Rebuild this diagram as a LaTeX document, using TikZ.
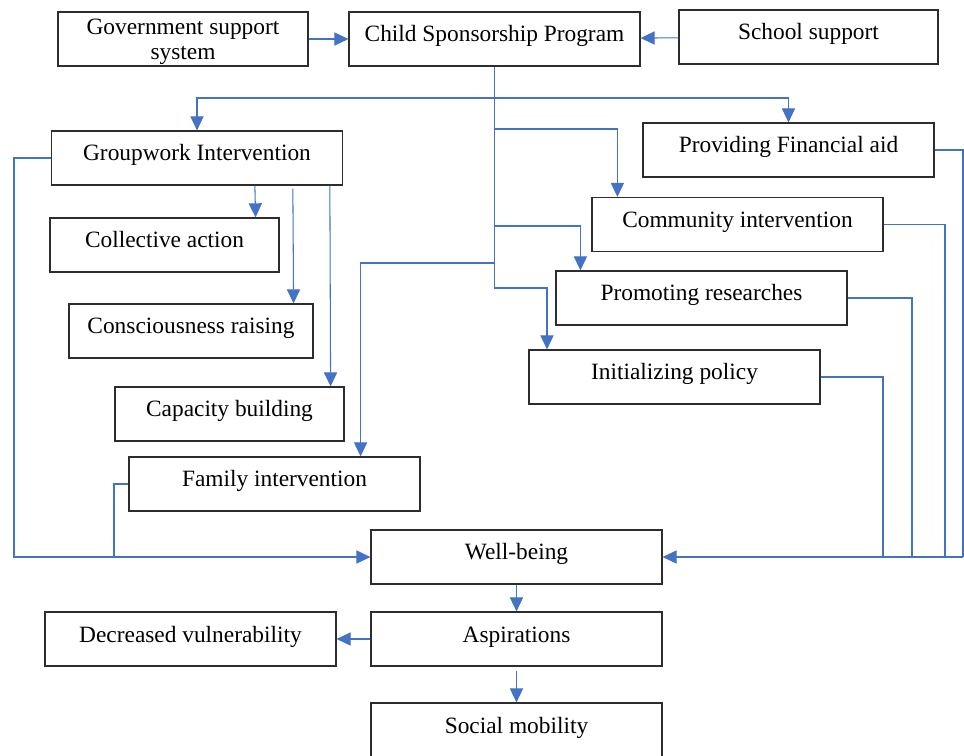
\documentclass[tikz,border=0pt]{standalone}
\usepackage{fontspec}
\setmainfont{Liberation Serif}
\usetikzlibrary{arrows.meta}
\definecolor{linkblue}{RGB}{68,114,196}
\definecolor{boxgray}{RGB}{45,45,45}

\begin{document}
\begin{tikzpicture}[x=0.02cm,y=-0.02cm,
    box/.style={draw=boxgray,line width=0.7pt,minimum width=5.82cm,minimum height=1.08cm,
      inner xsep=2pt,inner ysep=0pt,text height=17pt,text depth=13.6pt,
      font=\fontsize{13.3}{14.2}\selectfont},
    link/.style={draw=linkblue,line width=0.6pt},
    arr/.style={link,-{Triangle[length=8pt,width=7.5pt]}}]
    \useasboundingbox (0,0) rectangle (964,755);
    % boxes
    \node[box,minimum width=5cm,text height=20.4pt,text depth=10.2pt] (gov) at (183,39) {\parbox{4.8cm}{\centering Government support\\system}};
    \node[box] (csp) at (494.5,39) {Child Sponsorship Program};
    \node[box,minimum width=5.18cm] (school) at (808.5,37) {School support};
    \node[box] (group) at (197,158) {Groupwork Intervention};
    \node[box] (fin) at (788.5,150) {Providing Financial aid};
    \node[box] (comm) at (737.5,224.5) {Community intervention};
    \node[box,minimum width=4.58cm] (coll) at (164.5,245) {Collective action};
    \node[box] (prom) at (701.5,298) {Promoting researches};
    \node[box,minimum width=4.88cm] (cons) at (191,331) {Consciousness raising};
    \node[box] (init) at (674.5,377) {Initializing policy};
    \node[box,minimum width=4.58cm] (cap) at (229.5,414) {Capacity building};
    \node[box] (fam) at (274.5,484) {Family intervention};
    \node[box] (well) at (516.5,557) {Well-being};
    \node[box] (asp) at (516.5,639) {Aspirations};
    \node[box] (dec) at (190.5,639) {Decreased vulnerability};
    \node[box] (soc) at (516.5,730) {Social mobility};
    % inputs
    \draw[arr] (gov) -- (csp);
    \draw[arr] (school) -- (csp);
    % trunk and branches
    \coordinate (tend) at (547,288);
    \draw[arr] (csp.south) |- (tend) -- (tend |- init.north);
    \draw[arr] (494.5,98) -| (group.north);
    \draw[arr] (494.5,98) -| (fin.north);
    \draw[arr] (494.5,129) -| ([xshift=0.52cm]comm.north west);
    \draw[arr] (494.5,226) -| ([xshift=0.5cm]prom.north west);
    \draw[arr] (494.5,263) -| ([xshift=-1.2cm]fam.north east);
    % groupwork
    \draw[arr] ([xshift=4.08cm]group.south west) -- ([xshift=-0.48cm]coll.north east);
    \draw[arr] ([xshift=4.84cm,yshift=-0.06cm]group.south west) -- ([xshift=-0.4cm]cons.north east);
    \draw[arr] ([xshift=5.58cm]group.south west) -- ([xshift=-0.28cm]cap.north east);
    % into well-being
    \draw[arr] (group.west) -- (14,158) |- (well.west);
    \draw[link] (fam.west) -| (114,557);
    \draw[link] (fin.east) -| (963,557);
    \draw[arr] (963,557) -- (well.east);
    \draw[link] (comm.east) -| (945,557);
    \draw[link] (prom.east) -| (912,557);
    \draw[link] (init.east) -| (883,557);
    % outcomes
    \draw[arr] (well) -- (asp);
    \draw[arr] (asp) -- (dec);
    \draw[arr] ([yshift=-0.08cm]asp.south) -- (soc);
\end{tikzpicture}
\end{document}
